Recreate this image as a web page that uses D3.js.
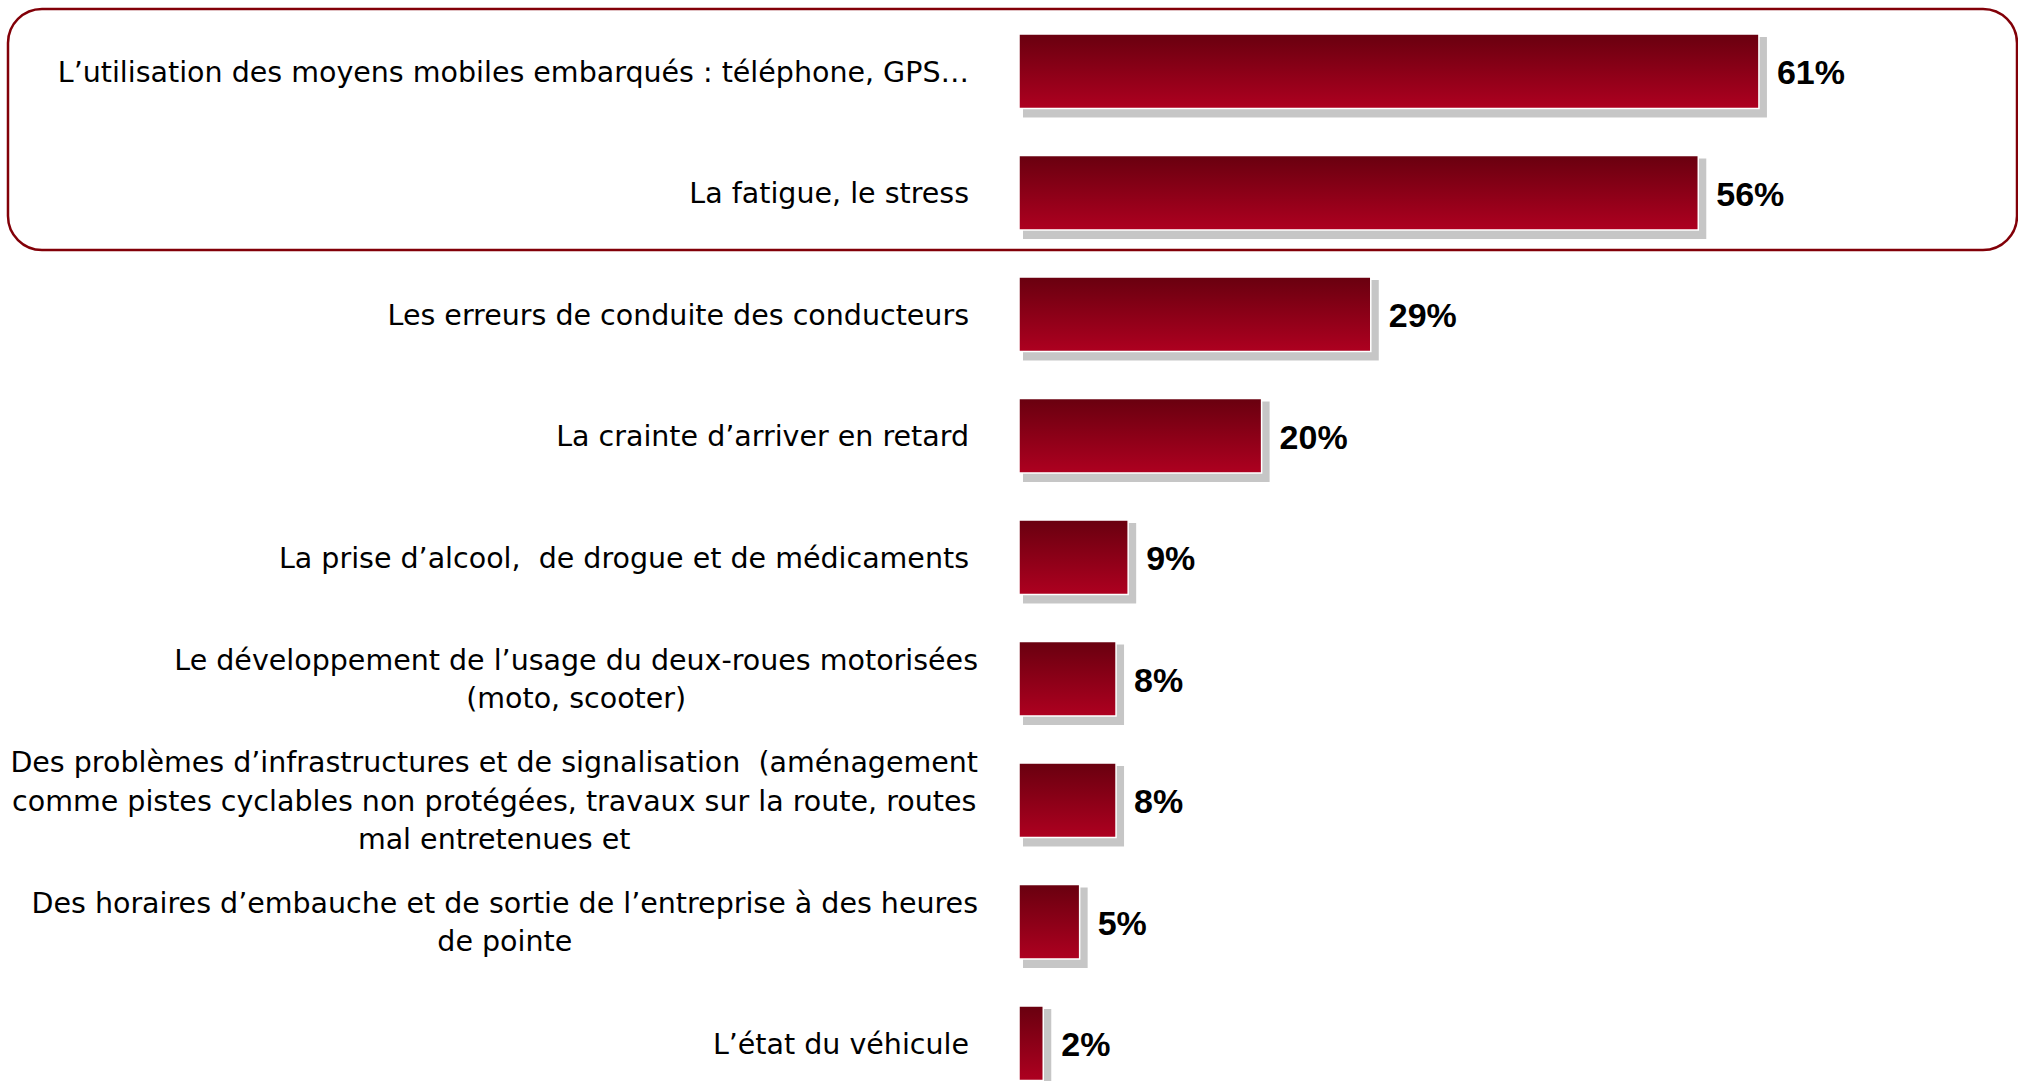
<!DOCTYPE html>
<html>
<head>
<meta charset="utf-8">
<script src="https://cdn.jsdelivr.net/npm/d3@7.9.0/dist/d3.min.js"></script>
<style>
  body { margin: 0; background: #fff; }
  svg { display: block; }
  .cat { font-family: "DejaVu Sans", Verdana, sans-serif; font-size: 28.5px; fill: #000; white-space: pre; }
  .val { font-family: "Liberation Sans", Arial, sans-serif; font-size: 34px; font-weight: bold; fill: #000; }
</style>
</head>
<body>
<svg id="chart" width="2018" height="1081"></svg>
<script>
const categories = [
  "L’utilisation des moyens mobiles embarqués : téléphone, GPS…",
  "La fatigue, le stress",
  "Les erreurs de conduite des conducteurs",
  "La crainte d’arriver en retard",
  "La prise d’alcool,  de drogue et de médicaments",
  "Le développement de l’usage du deux-roues motorisées\n(moto, scooter)",
  "Des problèmes d’infrastructures et de signalisation  (aménagement\ncomme pistes cyclables non protégées, travaux sur la route, routes\nmal entretenues et",
  "Des horaires d’embauche et de sortie de l’entreprise à des heures\nde pointe",
  "L’état du véhicule"
];
const values = [61, 56, 29, 20, 9, 8, 8, 5, 2];

const svg = d3.select('#chart');

// highlight frame round the two top answers
svg.append('rect')
  .attr('x', 8).attr('y', 9)
  .attr('width', 2009).attr('height', 241)
  .attr('rx', 34).attr('ry', 34)
  .attr('fill', 'none')
  .attr('stroke', '#820008')
  .attr('stroke-width', 2.5);

const grad = svg.append('defs').append('linearGradient')
  .attr('id', 'barGrad')
  .attr('x1', 0).attr('y1', 0).attr('x2', 0).attr('y2', 1);
grad.append('stop').attr('offset', '0%').attr('stop-color', '#69000f');
grad.append('stop').attr('offset', '100%').attr('stop-color', '#ae0020');

let x = d3.scaleLinear().domain([0, 100]).range([1019, 2232]);
let y = d3.scaleBand()
  .domain(d3.range(categories.length))
  .range([10.5, 1104])
  .paddingInner(0.387)
  .paddingOuter(0.1935);

let rows = svg.selectAll('g.row')
  .data(values)
  .join('g')
  .attr('class', 'row');

// shadow
rows.append('rect')
  .attr('x', (d) => x(0) + 4)
  .attr('y', (d, i) => y(i) + 3)
  .attr('width', (d) => x(d) - x(0) + 4)
  .attr('height', y.bandwidth() + 6)
  .attr('fill', '#c6c6c6');

rows.append('rect')
  .attr('x', x(0))
  .attr('y', (d, i) => y(i))
  .attr('width', (d) => x(d) - x(0))
  .attr('height', y.bandwidth())
  .attr('fill', 'url(#barGrad)')
  .attr('stroke', '#fff')
  .attr('stroke-width', 1.5);

rows.append('text')
  .attr('class', 'val')
  .attr('x', (d) => x(d) + 18)
  .attr('y', (d, i) => y(i) + y.bandwidth() / 2 + 13)
  .text((d) => d + '%');

// category labels, multi-line ones are centred as a block
const lineH = 38.6;
const capH = 28.5 * 0.729;
categories.forEach((cat, i) => {
  let lines = cat.split('\n');
  let cy = y(i) + y.bandwidth() / 2;
  let first = cy - (lines.length - 1) * lineH / 2 + capH / 2;
  let t = svg.append('text').attr('class', 'cat');
  lines.forEach((line, k) => {
    t.append('tspan').attr('y', first + k * lineH).text(line);
  });
  if (lines.length === 1) {
    t.attr('text-anchor', 'end');
    t.selectAll('tspan').attr('x', 969);
  } else {
    let maxW = d3.max(t.selectAll('tspan').nodes(), (n) => n.getComputedTextLength());
    t.attr('text-anchor', 'middle');
    t.selectAll('tspan').attr('x', 978 - maxW / 2);
  }
});
</script>
</body>
</html>
